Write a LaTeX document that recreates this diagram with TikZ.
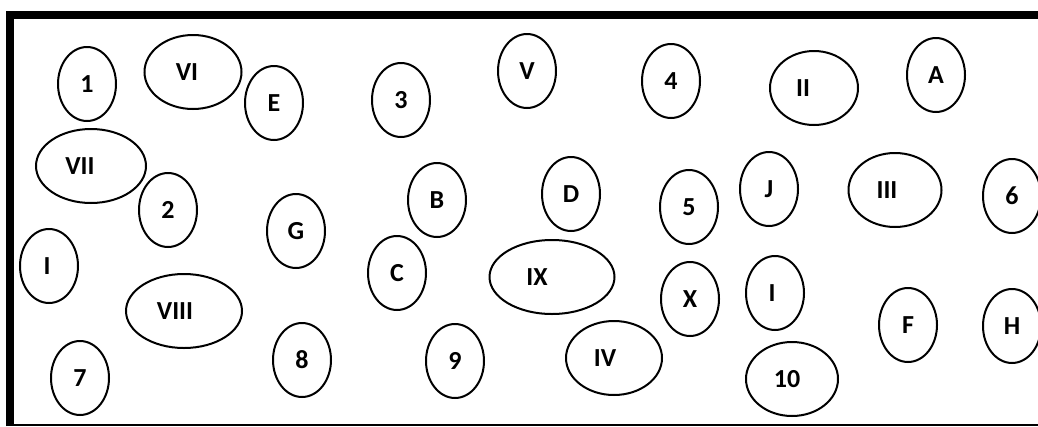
\documentclass[tikz,border=0pt]{standalone}
\usepackage{fontspec}
\setmainfont{Carlito}
\usetikzlibrary{shapes.geometric}

\begin{document}
\begin{tikzpicture}[
        x=1pt, y=-1pt,
        blob/.style={ellipse, draw, line width=2pt, inner sep=0pt,
            minimum width=58pt, minimum height=74pt,
            font=\bfseries\fontsize{26}{26}\selectfont},
        every label/.style={font=\bfseries\fontsize{26}{26}\selectfont}
    ]
    \useasboundingbox (0,0) rectangle (1038,426);

    % frame
    \draw[line width=8pt] (10,426) -- (10,15) -- (1040,15);
    \draw[line width=2.5pt] (10,424.8) -- (1040,424.8);

    % numbers
    \node[blob] (num1) at (87,84) {1};
    \node[blob] (num2) at (168,210) {2};
    \node[blob] (num3) at (401,100) {3};
    \node[blob] (num4) at (671,81) {4};
    \node[blob] (num5) at (689,207) {5};
    \node[blob] (num6) at (1012,196) {6};
    \node[blob] (num7) at (80,378) {7};
    \node[blob] (num8) at (302,360) {8};
    \node[blob] (num9) at (455,361) {9};
    \node[blob, minimum width=92pt, label={[xshift=-5pt]center:10}] (num10) at (792,379) {};

    % letters
    \node[blob] (letA) at (936,75) {A};
    \node[blob] (letB) at (437,200) {B};
    \node[blob] (letC) at (397,273) {C};
    \node[blob] (letD) at (571,194) {D};
    \node[blob] (letE) at (274,103) {E};
    \node[blob] (letF) at (908,325) {F};
    \node[blob] (letG) at (296,231) {G};
    \node[blob] (letH) at (1012,326) {H};
    \node[blob, label={[xshift=-3pt]center:I}] (letI) at (775,293) {};
    \node[blob] (letJ) at (769,189) {J};

    % roman numerals
    \node[blob, label={[xshift=-2pt]center:I}] (romI) at (49,266) {};
    \node[blob, minimum width=88pt, label={[xshift=-11pt]center:II}] (romII) at (814,88) {};
    \node[blob, minimum width=93pt, label={[xshift=-8pt]center:III}] (romIII) at (895,190) {};
    \node[blob, minimum width=96pt, label={[xshift=-9pt]center:IV}] (romIV) at (614,358) {};
    \node[blob] (romV) at (527,71) {V};
    \node[blob, minimum width=97pt, label={[xshift=-6pt]center:VI}] (romVI) at (193,72) {};
    \node[blob, minimum width=110pt, label={[xshift=-11pt]center:VII}] (romVII) at (91,166) {};
    \node[blob, minimum width=116pt, label={[xshift=-9pt]center:VIII}] (romVIII) at (184,311) {};
    \node[blob, minimum width=125pt, label={[xshift=-15pt]center:IX}] (romIX) at (552,277) {};
    \node[blob] (romX) at (690,299) {X};

\end{tikzpicture}
\end{document}
